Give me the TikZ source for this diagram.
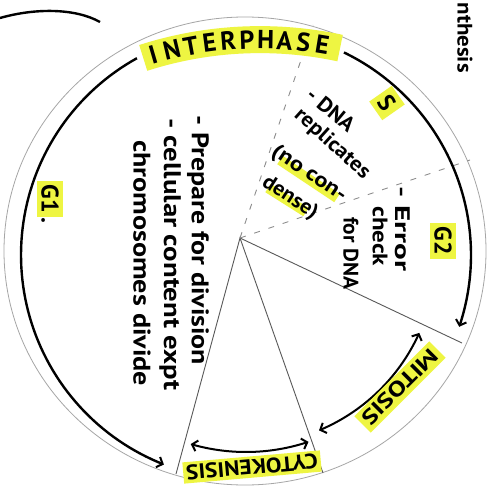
\documentclass[tikz,border=0pt]{standalone}
\usepackage{fontspec}
\setmainfont{PT Sans}
\usepackage{graphicx}
\usetikzlibrary{arrows.meta}
\definecolor{hl}{HTML}{EEF542}
\newcommand{\fitw}[2]{\resizebox{#1}{\height}{#2}}
\begin{document}
\begin{tikzpicture}[x=1pt,y=-1pt,
  thickarc/.style={line width=2.4pt, draw=black},
  outerring/.style={line width=0.8pt, draw=black!35},
  radial/.style={line width=0.9pt, draw=black!65},
  dashradial/.style={line width=0.9pt, draw=black!45, dash pattern=on 6pt off 9pt},
  hand/.style={font=\bfseries\fontsize{24}{28}\selectfont, inner sep=0pt},
  small/.style={font=\bfseries\fontsize{21}{25}\selectfont, inner sep=0pt},
  tag/.style={font=\bfseries\fontsize{24}{28}\selectfont, fill=hl, inner sep=4pt},
  letter/.style={font=\bfseries\fontsize{26}{30}\selectfont, inner sep=0pt},
  hlbox/.style={fill=hl, inner sep=4pt},
  onetip/.style={-{Straight Barb[length=5pt,width=11pt,line width=2pt]}},
  twotip/.style={{Straight Barb[length=5pt,width=11pt,line width=2pt]}-{Straight Barb[length=5pt,width=11pt,line width=2pt]}},
]
\useasboundingbox (0,0) rectangle (493,495);
\fill[white] (0,0) rectangle (493,495);

% outer thin ring
\draw[outerring] (245,251) ellipse [x radius=241, y radius=234];

% pie lines
\coordinate (V) at (240,238);
\coordinate (p1) at (176,474);
\coordinate (p2) at (323,473);
\coordinate (p3) at (462,343);
\coordinate (d1) at (313,25);
\coordinate (d2) at (470,160);
\draw[radial] (p1) -- (V) -- (p2);
\draw[radial] (V) -- (p3);
\draw[dashradial] (V) -- (d1);
\draw[dashradial] (V) -- (d2);

% thick arcs
\draw[thickarc, onetip] plot[domain=241:111.4, samples=80] ({246+225*cos(\x)},{255+225*sin(\x)});
\draw[thickarc, onetip] plot[domain=-64.2:18.6, samples=80] ({246+225*cos(\x)},{255+225*sin(\x)});
\draw[line width=2pt, twotip] plot[domain=24.2:67.4, samples=60] ({246+190*cos(\x)},{255+190*sin(\x)});
\draw[line width=2pt, twotip] plot[domain=106.3:71.5, samples=60] ({246+197*cos(\x)},{255+197*sin(\x)});

% top-left fragment
\draw[thickarc] (0,18) .. controls (35,8) and (75,8) .. (100,22);

% INTERPHASE
\draw[hl, line width=27pt] plot[domain=-107.8:-77.9, samples=60] ({260+382*cos(\x)},{421.6+382*sin(\x)});
\foreach \ch [count=\i from 0] in {I,N,T,E,R,P,H,A,S,E} {
  \pgfmathsetmacro{\th}{-90+asin((153+18.8*\i-260)/382)}
  \pgfmathsetmacro{\rot}{-90-(\th)}
  \node[letter, rotate=\rot] (ip\i) at ({260+382*cos(\th)},{421.6+382*sin(\th)}) {\ch};
}

% left texts
\node[hand, rotate=-90, anchor=west] (prep) at (198,115) {\fitw{250pt}{- Prepare for division}};
\node[hand, rotate=-90, anchor=west] (cell) at (170,118) {\fitw{272pt}{- cellular content expt}};
\node[hand, rotate=-90, anchor=west] (chrom) at (142,140) {\fitw{246pt}{chromosomes divide}};
\node[hand, rotate=-90] (g1) at (50,202) {\setlength{\fboxsep}{4pt}\colorbox{hl}{G1}.};

% S sector
\draw[hl, line width=10pt] (280,160) -- (337,198);
\draw[hl, line width=10pt] (268,188) -- (306,212);
\node[tag, rotate=-55, inner sep=5pt] (s) at (387,103) {S};
\node[small, rotate=-40] (dna1) at (331,110) {\fitw{56pt}{- DNA}};
\node[small, rotate=-42] (dna2) at (332,144) {\fitw{94pt}{replicates}};
\node[small, rotate=-34] (dna3) at (309,174) {\fitw{86pt}{(no con-}};
\node[small, rotate=-33] (dna4) at (290,198) {\fitw{62pt}{dense)}};

% G2 sector
\node[tag, rotate=-90] (g2) at (443,241) {G2};
\node[small, rotate=-90, anchor=west] (err1) at (403,186) {\fitw{85pt}{- Error}};
\node[small, rotate=-90, anchor=west] (err2) at (380,206) {\fitw{60pt}{check}};
\node[small, rotate=-90, anchor=west] (err3) at (351,217) {\fitw{72pt}{for DNA}};

% mitosis, cytokinesis
\node[small, hlbox, rotate=225] (mit) at (400,387) {\fitw{98pt}{MITOSIS}};
\node[small, hlbox, rotate=185, inner sep=3pt] (cyto) at (252,467) {\fitw{132pt}{CYTOKENISIS}};

% corner text
\node[small, rotate=-90, anchor=east] (syn) at (465,73) {\fitw{70pt}{nthesis}};
\end{tikzpicture}
\end{document}
